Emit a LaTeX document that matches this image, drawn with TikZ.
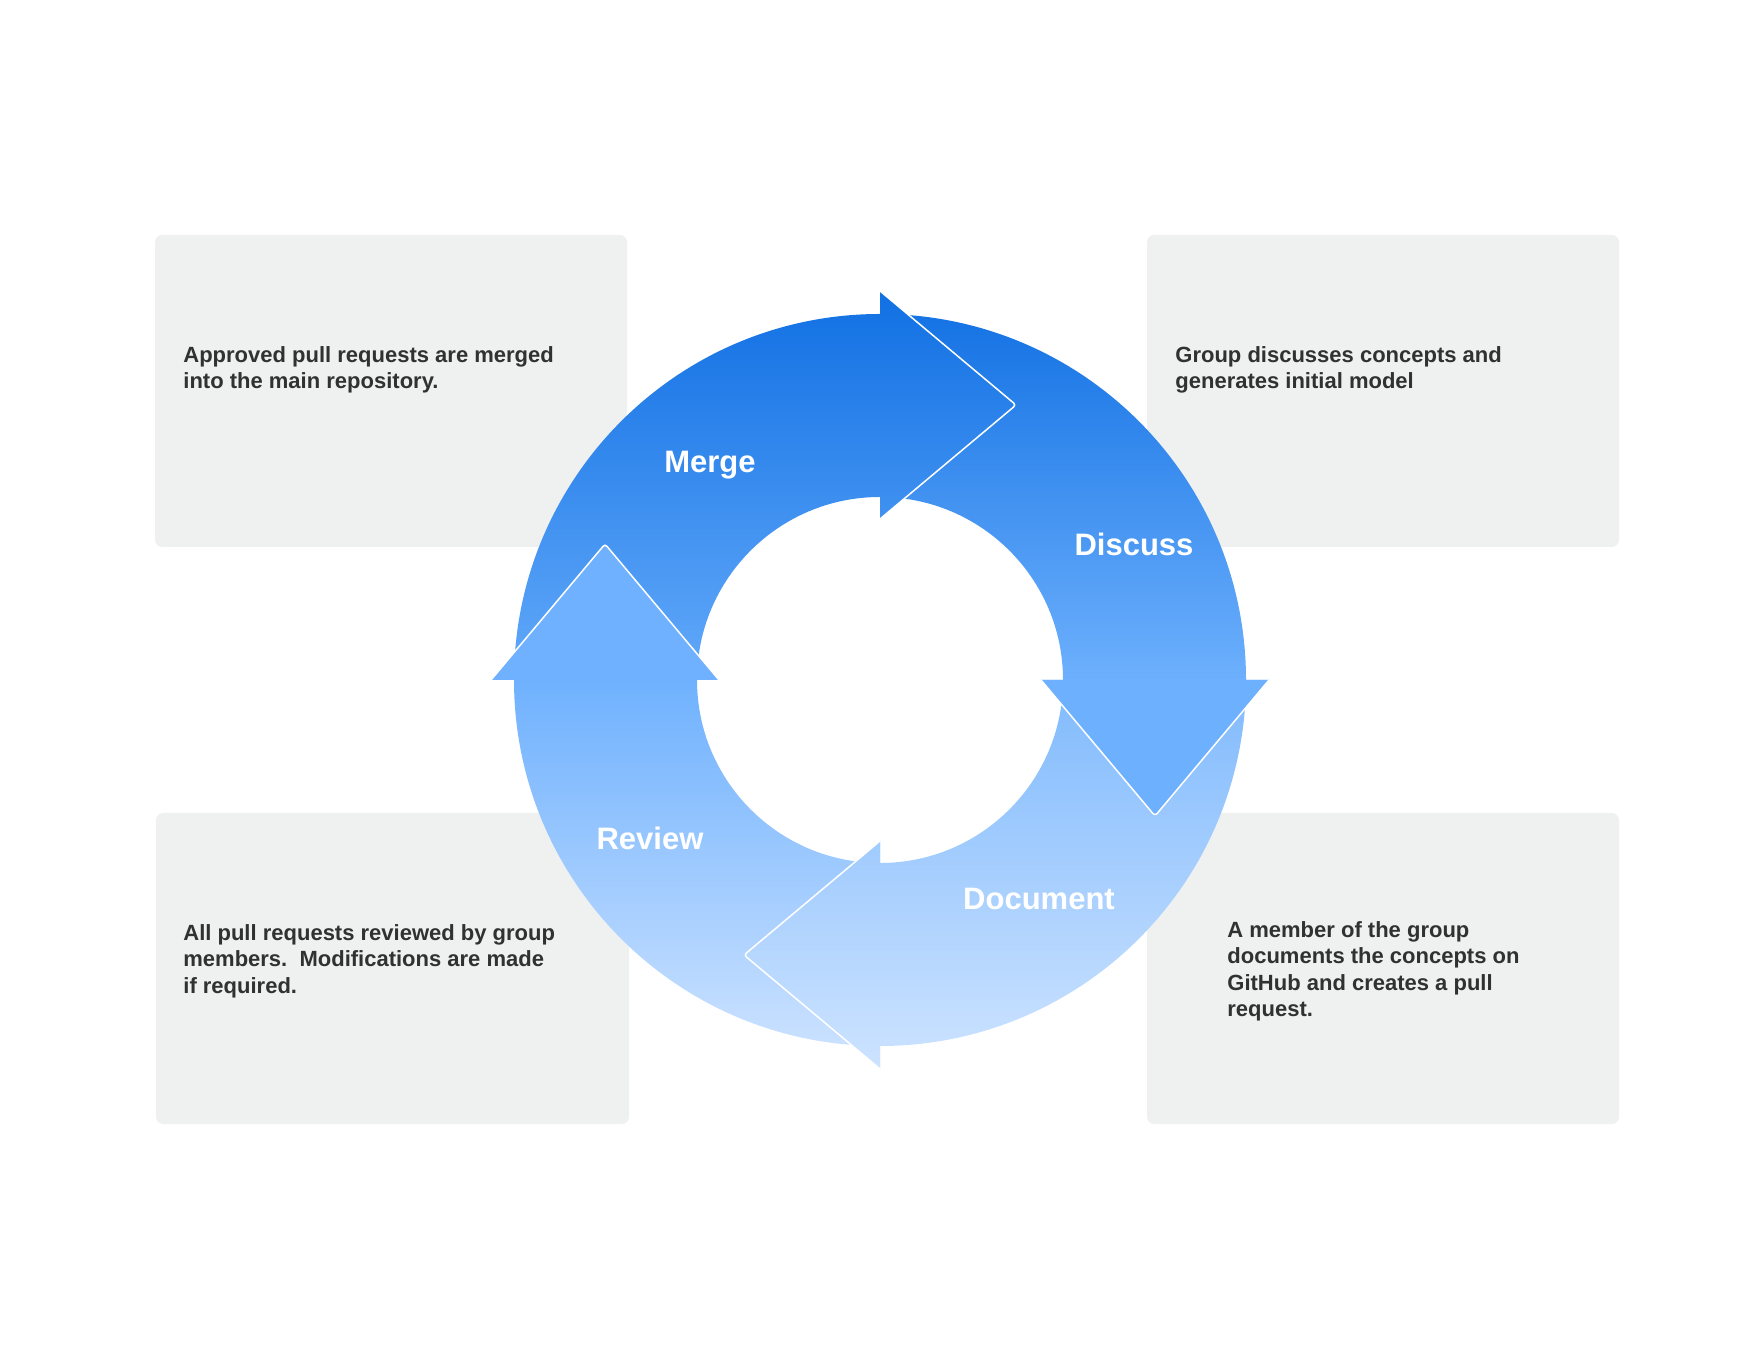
\documentclass[tikz,border=0pt]{standalone}
\usepackage{fontspec}
\setmainfont{Liberation Sans}
\definecolor{boxgray}{HTML}{EFF0F0}
\definecolor{txtgray}{HTML}{313131}
\definecolor{mA}{HTML}{62A9FA}
\definecolor{mB}{HTML}{1170E3}
\definecolor{dA}{HTML}{6DB0FD}
\definecolor{dB}{HTML}{1573E4}
\definecolor{rA}{HTML}{CAE1FF}
\definecolor{rB}{HTML}{6FB1FE}
\definecolor{oA}{HTML}{CDE3FF}
\definecolor{oB}{HTML}{80BAFD}
\pgfdeclareverticalshading{mergeshade}{100bp}{color(0bp)=(mA); color(25bp)=(mA); color(75bp)=(mB); color(100bp)=(mB)}
\pgfdeclareverticalshading{discussshade}{100bp}{color(0bp)=(dA); color(25bp)=(dA); color(38.5bp)=(dA); color(75bp)=(dB); color(100bp)=(dB)}
\pgfdeclareverticalshading{reviewshade}{100bp}{color(0bp)=(rA); color(25bp)=(rA); color(61.5bp)=(rB); color(75bp)=(rB); color(100bp)=(rB)}
\pgfdeclareverticalshading{documentshade}{100bp}{color(0bp)=(oA); color(25bp)=(oA); color(75bp)=(oB); color(100bp)=(oB)}
\tikzset{
  infobox/.style={fill=boxgray, rounded corners=3.5pt},
  lbl/.style={anchor=base, inner sep=0pt, text=white, font=\fontsize{15.5}{18}\selectfont\bfseries},
  desc/.style={anchor=north west, inner sep=0pt, align=left, text=txtgray, font=\fontsize{11}{13.25}\selectfont\bfseries},
  headline/.style={draw=white, line width=0.75pt, line join=round, rounded corners=1.5pt}
}
\def\pMerge{(514,680) arc[start angle=180,end angle=90,radius=183pt] -- (880,1069) -- (1016,955) -- (880,841) -- (880,863) arc[start angle=90,end angle=180,radius=91.5pt] -- cycle}
\def\pDiscuss{(880,1046) arc[start angle=90,end angle=0,radius=183pt] -- (1269,680) -- (1155,544) -- (1041,680) -- (1063,680) arc[start angle=0,end angle=90,radius=91.5pt] -- cycle}
\def\pDocument{(1246,680) arc[start angle=0,end angle=-90,radius=183pt] -- (880,291) -- (744,405) -- (880,519) -- (880,497) arc[start angle=-90,end angle=0,radius=91.5pt] -- cycle}
\def\pReview{(880,314) arc[start angle=-90,end angle=-180,radius=183pt] -- (491,680) -- (605,816) -- (719,680) -- (697,680) arc[start angle=180,end angle=270,radius=91.5pt] -- cycle}
\def\hMerge{(880,1069) -- (1016,955) -- (880,841)}
\def\hDiscuss{(1269,680) -- (1155,544) -- (1041,680)}
\def\hDocument{(880,291) -- (744,405) -- (880,519)}
\def\hReview{(491,680) -- (605,816) -- (719,680)}
\begin{document}
\begin{tikzpicture}[x=0.5pt,y=0.5pt]
\useasboundingbox (0,0) rectangle (1760,1360);
% info boxes
\fill[infobox] (155,813) rectangle (627,1125);
\fill[infobox] (1147,813) rectangle (1619,1125);
\fill[infobox] (156,236) rectangle (629,547);
\fill[infobox] (1147,236) rectangle (1619,547);
% ring segments
\shade[shading=discussshade] \pDiscuss;
\shade[shading=mergeshade] \pMerge;
\shade[shading=reviewshade] \pReview;
\shade[shading=documentshade] \pDocument;
% arrow heads on top
\begin{scope}\clip \hMerge -- cycle; \shade[shading=mergeshade] \pMerge;\end{scope}
\begin{scope}\clip \hDiscuss -- cycle; \shade[shading=discussshade] \pDiscuss;\end{scope}
\begin{scope}\clip \hDocument -- cycle; \shade[shading=documentshade] \pDocument;\end{scope}
\begin{scope}\clip \hReview -- cycle; \shade[shading=reviewshade] \pReview;\end{scope}
\draw[headline] \hMerge;
\draw[headline] \hDiscuss;
\draw[headline] \hDocument;
\draw[headline] \hReview;
% labels
\node[lbl] (merge) at (710,887) {Merge};
\node[lbl] (discuss) at (1134,804) {Discuss};
\node[lbl] (review) at (650,510) {Review};
\node[lbl] (document) at (1039,450) {Document};
% descriptions
\node[desc] (tl) at (183,1014) {Approved pull requests are merged\\into the main repository.};
\node[desc] (tr) at (1175,1014) {Group discusses concepts and\\generates initial model};
\node[desc] (bl) at (183,436) {All pull requests reviewed by group\\members.\ \ Modifications are made\\if required.};
\node[desc] (br) at (1227,439) {A member of the group\\documents the concepts on\\GitHub and creates a pull\\request.};
\end{tikzpicture}
\end{document}
